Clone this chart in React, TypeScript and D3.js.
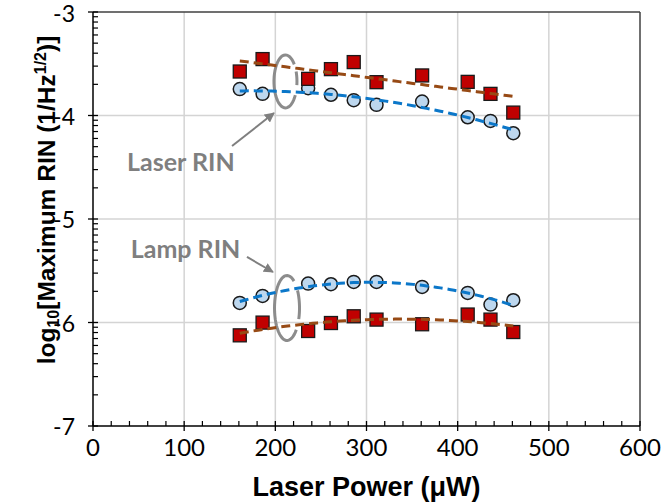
import React from 'react';
import * as d3 from 'd3';

// laser power (uW) for every measurement
const laserPower = [161, 186, 236, 261, 286, 311, 361, 411, 436, 461];

// log10 of maximum RIN
const laserRinRed = [-3.575, -3.455, -3.646, -3.552, -3.484, -3.678, -3.613, -3.675, -3.791, -3.972];
const laserRinBlue = [-3.745, -3.791, -3.736, -3.8, -3.852, -3.897, -3.865, -4.017, -4.052, -4.171];
const lampRinBlue = [-5.811, -5.743, -5.624, -5.63, -5.608, -5.608, -5.656, -5.714, -5.827, -5.785];
const lampRinRed = [-6.124, -6.001, -6.082, -6.005, -5.94, -5.972, -6.017, -5.923, -5.972, -6.092];

const xTicks = [0, 100, 200, 300, 400, 500, 600];
const yTicks = [-7, -6, -5, -4, -3];

const W = 662;
const H = 504;
const margin = {left: 93, right: 22, top: 12, bottom: 78};

const RED = '#C00000';
const LIGHTBLUE = '#BDD7EE';
const BROWN = '#974A15';
const BLUE = '#0B77C9';
const GRAY = '#7F7F7F';

// least squares polynomial trendline (like excel)
function polyFit(xs: number[], ys: number[], order: number) {
    const n = order + 1;
    const mx = d3.mean(xs) as number;
    const A = Array.from({length: n}, () => new Array(n + 1).fill(0));
    xs.forEach((x0, k) => {
        const x = (x0 - mx) / 100;
        for (let i = 0; i < n; i++) {
            for (let j = 0; j < n; j++) A[i][j] += x ** (i + j);
            A[i][n] += ys[k] * x ** i;
        }
    });
    for (let i = 0; i < n; i++) {
        let p = i;
        for (let r = i + 1; r < n; r++) if (Math.abs(A[r][i]) > Math.abs(A[p][i])) p = r;
        [A[i], A[p]] = [A[p], A[i]];
        for (let r = 0; r < n; r++) {
            if (r === i) continue;
            const f = A[r][i] / A[i][i];
            for (let c = i; c <= n; c++) A[r][c] -= f * A[i][c];
        }
    }
    const coef = A.map((row, i) => row[n] / row[i]);
    return (x0: number) => {
        const x = (x0 - mx) / 100;
        return coef.reduce((s, c, i) => s + c * x ** i, 0);
    };
}

const series = [
    {values: laserRinBlue, marker: 'circle', line: BLUE, order: 2},
    {values: lampRinBlue, marker: 'circle', line: BLUE, order: 2},
    {values: laserRinRed, marker: 'square', line: BROWN, order: 1},
    {values: lampRinRed, marker: 'square', line: BROWN, order: 2},
];

const App = () => {
    const x = d3.scaleLinear().domain([0, 600]).range([margin.left, W - margin.right]);
    const y = d3.scaleLinear().domain([-7, -3]).range([H - margin.bottom, margin.top]);
    const x0 = margin.left, x1 = W - margin.right, y0 = H - margin.bottom, y1 = margin.top;

    const xMinor = d3.range(0, 601, 20).filter(v => v % 100 !== 0);
    const yMinor: number[] = [];
    for (let n = -7; n < -3; n++) for (let k = 2; k <= 9; k++) yMinor.push(n + Math.log10(k));

    const line = d3.line<[number, number]>().x(d => x(d[0])).y(d => y(d[1]));

    const fits = series.map(s => {
        const f = polyFit(laserPower, s.values, s.order);
        const lo = laserPower[0], hi = laserPower[laserPower.length - 1];
        const pts = d3.range(0, 61).map(i => {
            const xv = lo + (hi - lo) * i / 60;
            return [xv, f(xv)] as [number, number];
        });
        return {d: line(pts) as string, color: s.line};
    });

    // rings around the pairs of curves, visible arcs in degrees
    const rings = [
        {cx: 211.1, cy: -3.671, rx: 11.5, ry: 26.5, arcs: [[31, 320], [-22, 8]]},
        {cx: 212.8, cy: -5.86, rx: 12.5, ry: 32.5, arcs: [[42, 304], [-33, 20]]},
    ];
    const ringPath = (r: typeof rings[0]) => r.arcs.map(([a, b]) => {
        const pts = d3.range(0, 41).map(i => {
            const t = (a + (b - a) * i / 40) * Math.PI / 180;
            return [x(r.cx) + r.rx * Math.cos(t), y(r.cy) + r.ry * Math.sin(t)];
        });
        return 'M' + pts.map(p => p.join(',')).join('L');
    }).join('');

    const arrows = [
        {from: [152.5, -4.295], to: [198.5, -3.976]},
        {from: [168.9, -5.367], to: [197.4, -5.512]},
    ];
    const notes = [
        {text: 'Laser RIN', x: 37.3, y: -4.533},
        {text: 'Lamp RIN', x: 41.4, y: -5.38},
    ];

    return (
        <svg width={W} height={H} style={{position: 'absolute', left: 0, top: 0, background: '#fff'}}>
            <defs>
                <marker id="head" viewBox="0 0 10 10" refX="9" refY="5" markerWidth="5" markerHeight="5"
                        orient="auto" markerUnits="strokeWidth">
                    <path d="M0,0L10,5L0,10z" fill={GRAY}/>
                </marker>
            </defs>

            {/* grid */}
            {xTicks.slice(1, -1).map(v => (
                <line key={'gx' + v} x1={x(v)} x2={x(v)} y1={y0} y2={y1} stroke="#D4D4D4" strokeWidth={1.5}/>
            ))}
            {yTicks.slice(1, -1).map(v => (
                <line key={'gy' + v} x1={x0} x2={x1} y1={y(v)} y2={y(v)} stroke="#D4D4D4" strokeWidth={1.5}/>
            ))}

            {/* frame */}
            <line x1={x0} x2={x1} y1={y1} y2={y1} stroke="#404040" strokeWidth={1.5}/>
            <line x1={x1} x2={x1} y1={y1} y2={y0} stroke="#404040" strokeWidth={1.5}/>
            <line x1={x0} x2={x0} y1={y1} y2={y0} stroke="#000" strokeWidth={1.5}/>
            <line x1={x0} x2={x1} y1={y0} y2={y0} stroke="#000" strokeWidth={1.5}/>

            {/* ticks */}
            {xTicks.map(v => (
                <line key={'tx' + v} x1={x(v)} x2={x(v)} y1={y0 - 5} y2={y0 + 5} stroke="#000" strokeWidth={1.3}/>
            ))}
            {xMinor.map(v => (
                <line key={'mx' + v} x1={x(v)} x2={x(v)} y1={y0 - 5} y2={y0} stroke="#000" strokeWidth={1.2}/>
            ))}
            {yTicks.map(v => (
                <line key={'ty' + v} x1={x0 - 5} x2={x0 + 5} y1={y(v)} y2={y(v)} stroke="#000" strokeWidth={1.3}/>
            ))}
            {yMinor.map(v => (
                <line key={'my' + v} x1={x0} x2={x0 + 5} y1={y(v)} y2={y(v)} stroke="#000" strokeWidth={1.2}/>
            ))}

            {/* tick labels */}
            {xTicks.map(v => (
                <text key={'lx' + v} x={x(v)} y={y0 + 30} textAnchor="middle" fontFamily="Lato" fontSize={24}
                      fill="#000">{v}</text>
            ))}
            {yTicks.map(v => (
                <text key={'ly' + v} x={x0 - 18} y={Math.max(y(v), 13)} textAnchor="end" dominantBaseline="central"
                      fontFamily="Lato" fontSize={23} fill="#000">{v}</text>
            ))}

            {/* axis titles */}
            <text x={(x0 + x1) / 2} y={496} textAnchor="middle" fontFamily="Liberation Sans" fontWeight="bold"
                  fontSize={27}>Laser Power (μW)</text>
            <text transform={`translate(55, 200) rotate(-90)`} textAnchor="middle" fontFamily="Liberation Sans"
                  fontWeight="bold" fontSize={24.5}>
                log<tspan fontSize={16} dy={4}>10</tspan><tspan dy={-4}>[Maximum RIN (1/Hz</tspan>
                <tspan fontSize={16} dy={-9}>1/2</tspan><tspan dy={9}>)]</tspan>
            </text>

            {/* rings */}
            {rings.map((r, i) => (
                <path key={'r' + i} d={ringPath(r)} fill="none" stroke="#8C8C8C" strokeWidth={3}/>
            ))}

            {/* markers */}
            {series.filter(s => s.marker === 'circle').map((s, si) => s.values.map((v, i) => (
                <circle key={`c${si}-${i}`} cx={x(laserPower[i])} cy={y(v)} r={6.5} fill={LIGHTBLUE}
                        stroke="#1A1A1A" strokeWidth={1.5}/>
            )))}
            {series.filter(s => s.marker === 'square').map((s, si) => s.values.map((v, i) => (
                <rect key={`s${si}-${i}`} x={x(laserPower[i]) - 6.5} y={y(v) - 6.5} width={13} height={13}
                      fill={RED} stroke="#1A1A1A" strokeWidth={1.3}/>
            )))}

            {/* trendlines */}
            {fits.map((f, i) => (
                <path key={'f' + i} d={f.d} fill="none" stroke={f.color} strokeWidth={3} strokeDasharray="9 5"/>
            ))}

            {/* annotations */}
            {arrows.map((a, i) => (
                <line key={'a' + i} x1={x(a.from[0])} y1={y(a.from[1])} x2={x(a.to[0])} y2={y(a.to[1])}
                      stroke={GRAY} strokeWidth={2} markerEnd="url(#head)"/>
            ))}
            {notes.map((n, i) => (
                <text key={'n' + i} x={x(n.x)} y={y(n.y)} fontFamily="Lato" fontWeight="bold" fontSize={25}
                      fill={GRAY}>{n.text}</text>
            ))}
        </svg>
    );
};

export default App;
